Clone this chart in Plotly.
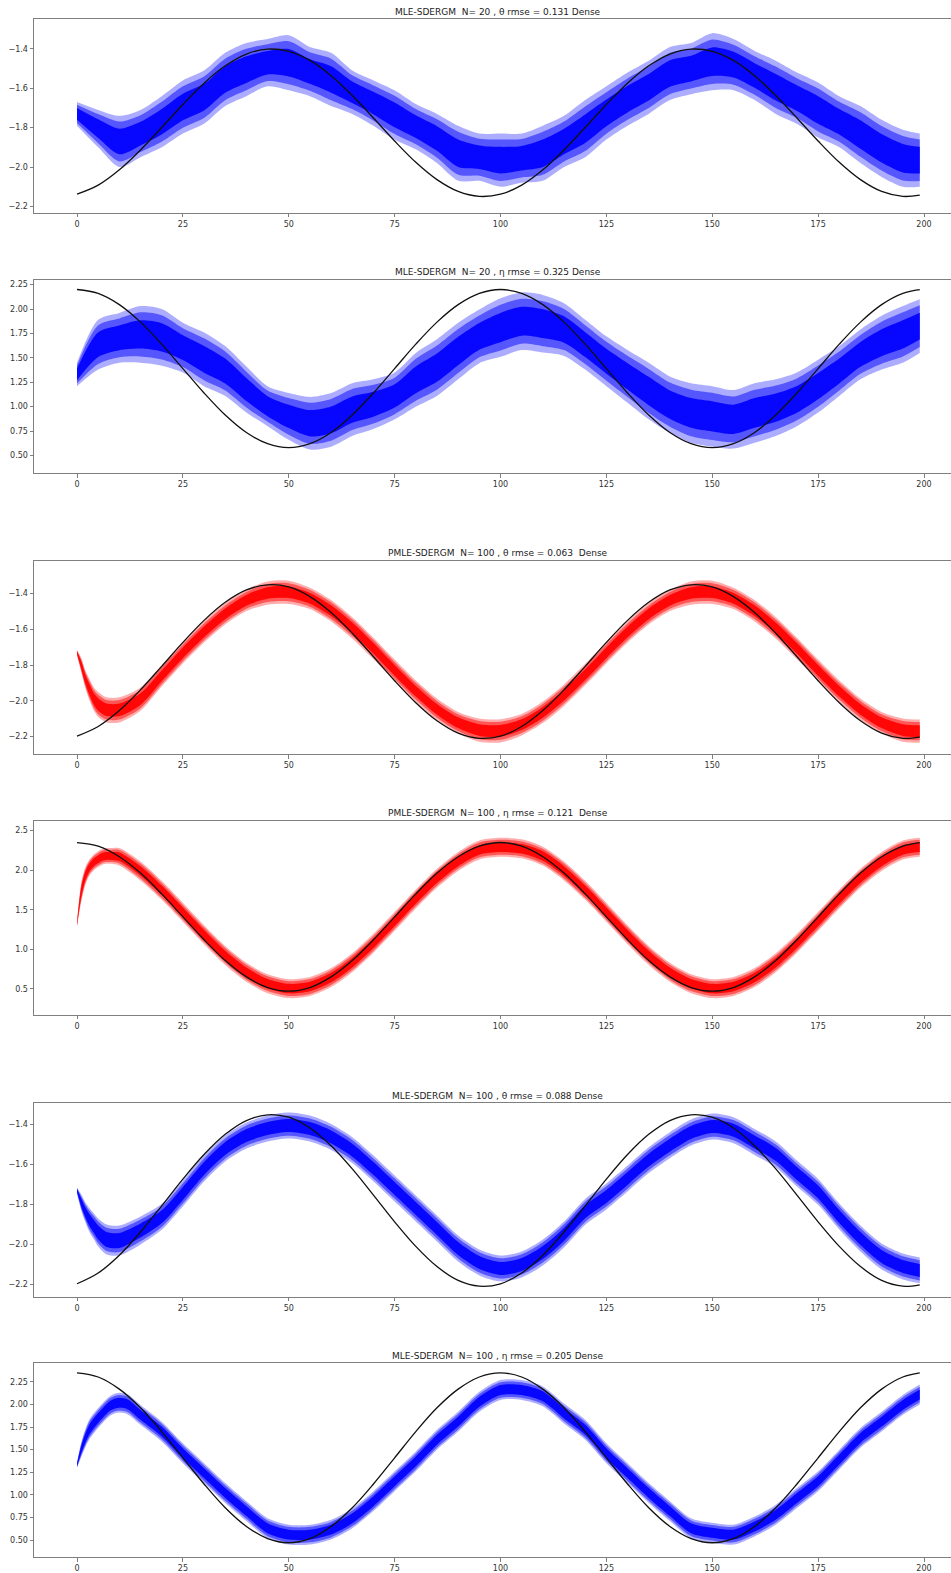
import plotly.graph_objects as go

# ---------------- data ----------------
T_STEP5 = [0, 5, 10, 15, 20, 25, 30, 35, 40, 45, 50, 55, 60, 65, 70, 75, 80, 85, 90, 95,
           100, 105, 110, 115, 120, 125, 130, 135, 140, 145, 150, 155, 160, 165, 170, 175,
           180, 185, 190, 195, 199]

# true parameter paths (black lines)
TRUTH_THETA_N20 = [-2.138, -2.092, -2.014, -1.913, -1.799, -1.682, -1.574, -1.486, -1.426, -1.401,
                   -1.412, -1.458, -1.536, -1.637, -1.751, -1.868, -1.976, -2.064, -2.124, -2.149,
                   -2.138, -2.092, -2.014, -1.913, -1.799, -1.682, -1.574, -1.486, -1.426, -1.401,
                   -1.412, -1.458, -1.536, -1.637, -1.751, -1.868, -1.976, -2.064, -2.124, -2.149,
                   -2.143]
TRUTH_ETA_N20 = [2.200, 2.160, 2.045, 1.866, 1.640, 1.390, 1.140, 0.914, 0.735, 0.620,
                 0.580, 0.620, 0.735, 0.914, 1.140, 1.390, 1.640, 1.866, 2.045, 2.160,
                 2.200, 2.160, 2.045, 1.866, 1.640, 1.390, 1.140, 0.914, 0.735, 0.620,
                 0.580, 0.620, 0.735, 0.914, 1.140, 1.390, 1.640, 1.866, 2.045, 2.160,
                 2.199]
TRUTH_THETA_N100 = [-2.197, -2.143, -2.054, -1.938, -1.807, -1.673, -1.550, -1.449, -1.380, -1.351,
                    -1.363, -1.417, -1.506, -1.622, -1.753, -1.887, -2.010, -2.111, -2.180, -2.209,
                    -2.197, -2.143, -2.054, -1.938, -1.807, -1.673, -1.550, -1.449, -1.380, -1.351,
                    -1.363, -1.417, -1.506, -1.622, -1.753, -1.887, -2.010, -2.111, -2.180, -2.209,
                    -2.202]
TRUTH_ETA_N100 = [2.350, 2.304, 2.170, 1.963, 1.700, 1.410, 1.120, 0.857, 0.650, 0.516,
                  0.470, 0.516, 0.650, 0.857, 1.120, 1.410, 1.700, 1.963, 2.170, 2.304,
                  2.350, 2.304, 2.170, 1.963, 1.700, 1.410, 1.120, 0.857, 0.650, 0.516,
                  0.470, 0.516, 0.650, 0.857, 1.120, 1.410, 1.700, 1.963, 2.170, 2.304,
                  2.349]

# panel 1: MLE N=20 theta (centre of the bundle and half-width of its spread)
P1_T = T_STEP5
P1_CENTER = [-1.73, -1.805, -1.87, -1.83, -1.77, -1.695, -1.645, -1.555, -1.505, -1.47,
             -1.47, -1.515, -1.555, -1.62, -1.675, -1.735, -1.795, -1.855, -1.93, -1.95,
             -1.965, -1.955, -1.93, -1.87, -1.805, -1.725, -1.655, -1.595, -1.525, -1.50,
             -1.465, -1.48, -1.535, -1.595, -1.65, -1.71, -1.77, -1.835, -1.905, -1.955,
             -1.965]
P1_SPREAD = [0.06, 0.095, 0.13, 0.12, 0.13, 0.135, 0.135, 0.135, 0.135, 0.12,
             0.14, 0.125, 0.135, 0.11, 0.115, 0.125, 0.115, 0.125, 0.14, 0.12,
             0.135, 0.125, 0.14, 0.13, 0.145, 0.135, 0.135, 0.135, 0.135, 0.13,
             0.145, 0.13, 0.125, 0.135, 0.13, 0.14, 0.13, 0.145, 0.145, 0.145,
             0.135]

# panel 2: MLE N=20 eta
P2_T = T_STEP5
P2_CENTER = [1.33, 1.635, 1.705, 1.74, 1.71, 1.605, 1.485, 1.365, 1.175, 1.005,
             0.90, 0.83, 0.865, 0.97, 1.025, 1.11, 1.275, 1.40, 1.57, 1.72,
             1.81, 1.875, 1.85, 1.79, 1.635, 1.465, 1.31, 1.16, 1.02, 0.935,
             0.90, 0.87, 0.935, 0.99, 1.075, 1.21, 1.365, 1.535, 1.655, 1.74,
             1.825]
P2_SPREAD = [0.12, 0.255, 0.255, 0.29, 0.29, 0.255, 0.275, 0.255, 0.235, 0.205,
             0.24, 0.27, 0.275, 0.27, 0.255, 0.24, 0.275, 0.29, 0.29, 0.275,
             0.30, 0.295, 0.295, 0.27, 0.255, 0.255, 0.27, 0.29, 0.29, 0.305,
             0.31, 0.30, 0.305, 0.29, 0.275, 0.27, 0.255, 0.255, 0.275, 0.29,
             0.275]

# panel 3: PMLE N=100 theta
P3_T = [0, 1, 2, 3, 4, 5, 7, 10, 15, 20, 25, 30, 35, 40, 45, 50, 55, 60, 65, 70, 75, 80, 85,
        90, 95, 100, 105, 110, 115, 120, 125, 130, 135, 140, 145, 150, 155, 160, 165, 170,
        175, 180, 185, 190, 195, 199]
P3_CENTER = [-1.73, -1.80, -1.88, -1.94, -1.99, -2.02, -2.05, -2.05, -1.99, -1.86, -1.731,
             -1.614, -1.513, -1.438, -1.397, -1.393, -1.427, -1.496, -1.592, -1.707, -1.829,
             -1.946, -2.047, -2.122, -2.163, -2.167, -2.133, -2.064, -1.968, -1.853, -1.731,
             -1.614, -1.513, -1.438, -1.397, -1.393, -1.427, -1.496, -1.592, -1.707, -1.829,
             -1.946, -2.047, -2.122, -2.163, -2.169]
P3_SPREAD = [0.015, 0.04, 0.05, 0.06, 0.065, 0.07, 0.07, 0.07, 0.065, 0.06, 0.06,
             0.06, 0.06, 0.06, 0.065, 0.065, 0.06, 0.06, 0.06, 0.06, 0.06,
             0.06, 0.06, 0.06, 0.065, 0.065, 0.06, 0.06, 0.06, 0.06, 0.06,
             0.06, 0.06, 0.06, 0.065, 0.065, 0.06, 0.06, 0.06, 0.06, 0.06,
             0.06, 0.06, 0.06, 0.065, 0.065]

# panel 4: PMLE N=100 eta
P4_T = [0, 1, 2, 3, 4, 5, 6, 7, 8, 10, 15, 20, 25, 30, 35, 40, 45, 50, 55, 60, 65, 70, 75,
        80, 85, 90, 95, 100, 105, 110, 115, 120, 125, 130, 135, 140, 145, 150, 155, 160,
        165, 170, 175, 180, 185, 190, 195, 199]
P4_CENTER = [1.32, 1.72, 1.93, 2.04, 2.10, 2.14, 2.17, 2.18, 2.18, 2.17, 1.99, 1.745,
             1.467, 1.184, 0.922, 0.709, 0.564, 0.502, 0.529, 0.642, 0.83, 1.075, 1.353,
             1.636, 1.898, 2.111, 2.256, 2.29, 2.27, 2.178, 1.99, 1.745, 1.467, 1.184,
             0.922, 0.709, 0.564, 0.502, 0.529, 0.642, 0.83, 1.075, 1.353, 1.636, 1.898,
             2.111, 2.256, 2.29]
P4_SPREAD = [0.03, 0.12, 0.11, 0.10, 0.10, 0.10, 0.10, 0.10, 0.10, 0.11, 0.12, 0.12,
             0.12, 0.12, 0.12, 0.12, 0.12, 0.12, 0.12, 0.12, 0.12, 0.12, 0.12,
             0.12, 0.12, 0.12, 0.12, 0.12, 0.12, 0.12, 0.12, 0.12, 0.12, 0.12,
             0.12, 0.12, 0.12, 0.12, 0.12, 0.12, 0.12, 0.12, 0.12, 0.12, 0.12,
             0.12, 0.12, 0.12]

# panel 5: MLE N=100 theta
P5_T = [0, 1, 2, 3, 4, 5, 7, 10, 15, 20, 25, 30, 35, 40, 45, 50, 55, 60, 65, 70, 75, 80, 85,
        90, 95, 100, 105, 110, 115, 120, 125, 130, 135, 140, 145, 150, 155, 160, 165, 170,
        175, 180, 185, 190, 195, 199]
P5_CENTER = [-1.73, -1.79, -1.84, -1.88, -1.91, -1.94, -1.975, -1.98, -1.93, -1.862, -1.745,
             -1.62, -1.52, -1.455, -1.42, -1.405, -1.42, -1.462, -1.528, -1.62, -1.72,
             -1.82, -1.92, -2.02, -2.09, -2.12, -2.10, -2.04, -1.95, -1.837, -1.76,
             -1.67, -1.578, -1.503, -1.44, -1.41, -1.428, -1.487, -1.55, -1.645, -1.737,
             -1.86, -1.97, -2.06, -2.11, -2.13]
P5_SPREAD = [0.015, 0.04, 0.05, 0.06, 0.065, 0.07, 0.075, 0.075, 0.07, 0.065, 0.065,
             0.065, 0.065, 0.065, 0.065, 0.065, 0.065, 0.065, 0.065, 0.065, 0.065,
             0.065, 0.065, 0.065, 0.065, 0.065, 0.065, 0.065, 0.065, 0.065, 0.065,
             0.065, 0.065, 0.065, 0.065, 0.065, 0.065, 0.065, 0.065, 0.065, 0.065,
             0.065, 0.065, 0.065, 0.065, 0.065]

# panel 6: MLE N=100 eta
P6_T = [0, 1, 2, 3, 5, 8, 10, 12, 15, 20, 25, 30, 35, 40, 45, 50, 55, 60, 65, 70, 75, 80, 85,
        90, 95, 100, 105, 110, 115, 120, 125, 130, 135, 140, 145, 150, 155, 160, 165, 170,
        175, 180, 185, 190, 195, 199]
P6_CENTER = [1.33, 1.50, 1.63, 1.73, 1.85, 1.99, 2.02, 2.00, 1.885, 1.70, 1.46, 1.24,
             1.02, 0.82, 0.63, 0.56, 0.56, 0.615, 0.74, 0.93, 1.15, 1.37, 1.61, 1.81,
             2.03, 2.16, 2.16, 2.09, 1.90, 1.72, 1.46, 1.24, 1.02, 0.82, 0.63, 0.58,
             0.56, 0.65, 0.78, 0.965, 1.15, 1.39, 1.63, 1.81, 1.995, 2.11]
P6_SPREAD = [0.03, 0.08, 0.10, 0.11, 0.11, 0.11, 0.11, 0.11, 0.11, 0.11, 0.11, 0.11,
             0.11, 0.11, 0.11, 0.11, 0.11, 0.11, 0.11, 0.11, 0.11, 0.11, 0.11, 0.11,
             0.11, 0.11, 0.11, 0.11, 0.11, 0.11, 0.11, 0.11, 0.11, 0.11, 0.11, 0.11,
             0.11, 0.11, 0.11, 0.11, 0.11, 0.11, 0.11, 0.11, 0.11, 0.11]

TITLES = [
    "MLE-SDERGM  N= 20 , \u03b8 rmse = 0.131 Dense",
    "MLE-SDERGM  N= 20 , \u03b7 rmse = 0.325 Dense",
    "PMLE-SDERGM  N= 100 , \u03b8 rmse = 0.063  Dense",
    "PMLE-SDERGM  N= 100 , \u03b7 rmse = 0.121  Dense",
    "MLE-SDERGM  N= 100 , \u03b8 rmse = 0.088 Dense",
    "MLE-SDERGM  N= 100 , \u03b7 rmse = 0.205 Dense",
]
X_TICKS = [0, 25, 50, 75, 100, 125, 150, 175, 200]
Y_TICKS_THETA = [-2.2, -2.0, -1.8, -1.6, -1.4]
Y_TICKS_ETA20 = [0.50, 0.75, 1.00, 1.25, 1.50, 1.75, 2.00, 2.25]
Y_TICKS_ETA_PMLE = [0.5, 1.0, 1.5, 2.0, 2.5]

# ---------------- layout / styling ----------------
W, H = 951, 1573
BLUE = (0, 0, 255)
RED = (255, 0, 0)

panels = [
    dict(t=P1_T, c=P1_CENTER, s=P1_SPREAD, truth=TRUTH_THETA_N20, rgb=BLUE,
         top=19, bot=213, yr=[-2.232, -1.248], yt=Y_TICKS_THETA, fmt=".1f", title_y=12),
    dict(t=P2_T, c=P2_CENTER, s=P2_SPREAD, truth=TRUTH_ETA_N20, rgb=BLUE,
         top=280.7, bot=474, yr=[0.316, 2.294], yt=Y_TICKS_ETA20, fmt=".2f", title_y=272),
    dict(t=P3_T, c=P3_CENTER, s=P3_SPREAD, truth=TRUTH_THETA_N100, rgb=RED,
         top=561.7, bot=755, yr=[-2.297, -1.218], yt=Y_TICKS_THETA, fmt=".1f", title_y=554),
    dict(t=P4_T, c=P4_CENTER, s=P4_SPREAD, truth=TRUTH_ETA_N100, rgb=RED,
         top=822.3, bot=1016, yr=[0.172, 2.619], yt=Y_TICKS_ETA_PMLE, fmt=".1f", title_y=814),
    dict(t=P5_T, c=P5_CENTER, s=P5_SPREAD, truth=TRUTH_THETA_N100, rgb=BLUE,
         top=1104.3, bot=1298.3, yr=[-2.2615, -1.2915], yt=Y_TICKS_THETA, fmt=".1f", title_y=1097),
    dict(t=P6_T, c=P6_CENTER, s=P6_SPREAD, truth=TRUTH_ETA_N100, rgb=BLUE,
         top=1365, bot=1559, yr=[0.312, 2.456], yt=Y_TICKS_ETA20, fmt=".2f", title_y=1358),
]

L_MARGIN = 34
X0_PX, X200_PX = 77, 924
px_per_unit = (X200_PX - X0_PX) / 200.0
x_lo = -(X0_PX - L_MARGIN) / px_per_unit
x_hi = x_lo + (W - L_MARGIN) / px_per_unit

fig = go.Figure()
layers = [(1.0, 0.32), (0.78, 0.5), (0.5, 0.92)]

for i, p in enumerate(panels, start=1):
    xa = "x" if i == 1 else f"x{i}"
    ya = "y" if i == 1 else f"y{i}"
    r, g, b = p["rgb"]
    for frac, alpha in layers:
        upper = [c + frac * s for c, s in zip(p["c"], p["s"])]
        lower = [c - frac * s for c, s in zip(p["c"], p["s"])]
        fig.add_trace(go.Scatter(x=p["t"], y=lower, mode="lines", xaxis=xa, yaxis=ya,
                                 line=dict(width=0, shape="spline", smoothing=0.8),
                                 hoverinfo="skip", showlegend=False))
        fig.add_trace(go.Scatter(x=p["t"], y=upper, mode="lines", xaxis=xa, yaxis=ya,
                                 line=dict(width=0, shape="spline", smoothing=0.8),
                                 fill="tonexty", fillcolor=f"rgba({r},{g},{b},{alpha})",
                                 hoverinfo="skip", showlegend=False))
    fig.add_trace(go.Scatter(x=T_STEP5, y=p["truth"], mode="lines", xaxis=xa, yaxis=ya,
                             line=dict(color="#111111", width=1.3, shape="spline", smoothing=1.0),
                             showlegend=False))

    dom = [1 - p["bot"] / H, 1 - p["top"] / H]
    axis_common = dict(showline=True, linecolor="#7f7f7f", linewidth=1, ticks="outside",
                       ticklen=3.5, tickwidth=1, tickcolor="#7f7f7f", showgrid=False,
                       zeroline=False, tickfont=dict(family="DejaVu Sans", size=8, color="#333333"))
    fig.layout[f"xaxis{'' if i == 1 else i}"] = dict(
        domain=[0, 1], anchor=ya, range=[x_lo, x_hi], tickvals=X_TICKS, mirror=True, **axis_common)
    fig.layout[f"yaxis{'' if i == 1 else i}"] = dict(
        domain=dom, anchor=xa, range=p["yr"], tickvals=p["yt"], tickformat=p["fmt"], **axis_common)

    fig.add_annotation(text=TITLES[i - 1], xref="paper", yref="paper",
                       x=(497.5 - L_MARGIN) / (W - L_MARGIN), y=1 - p["title_y"] / H,
                       xanchor="center", yanchor="middle", showarrow=False,
                       font=dict(family="DejaVu Sans", size=9, color="#222222"))

fig.update_layout(width=W, height=H, margin=dict(l=L_MARGIN, r=0, t=0, b=0),
                  paper_bgcolor="white", plot_bgcolor="white", showlegend=False)

fig.write_html("out.html", config={"displayModeBar": False},
               post_script="document.body.style.margin='0';document.body.style.overflow='hidden';")
